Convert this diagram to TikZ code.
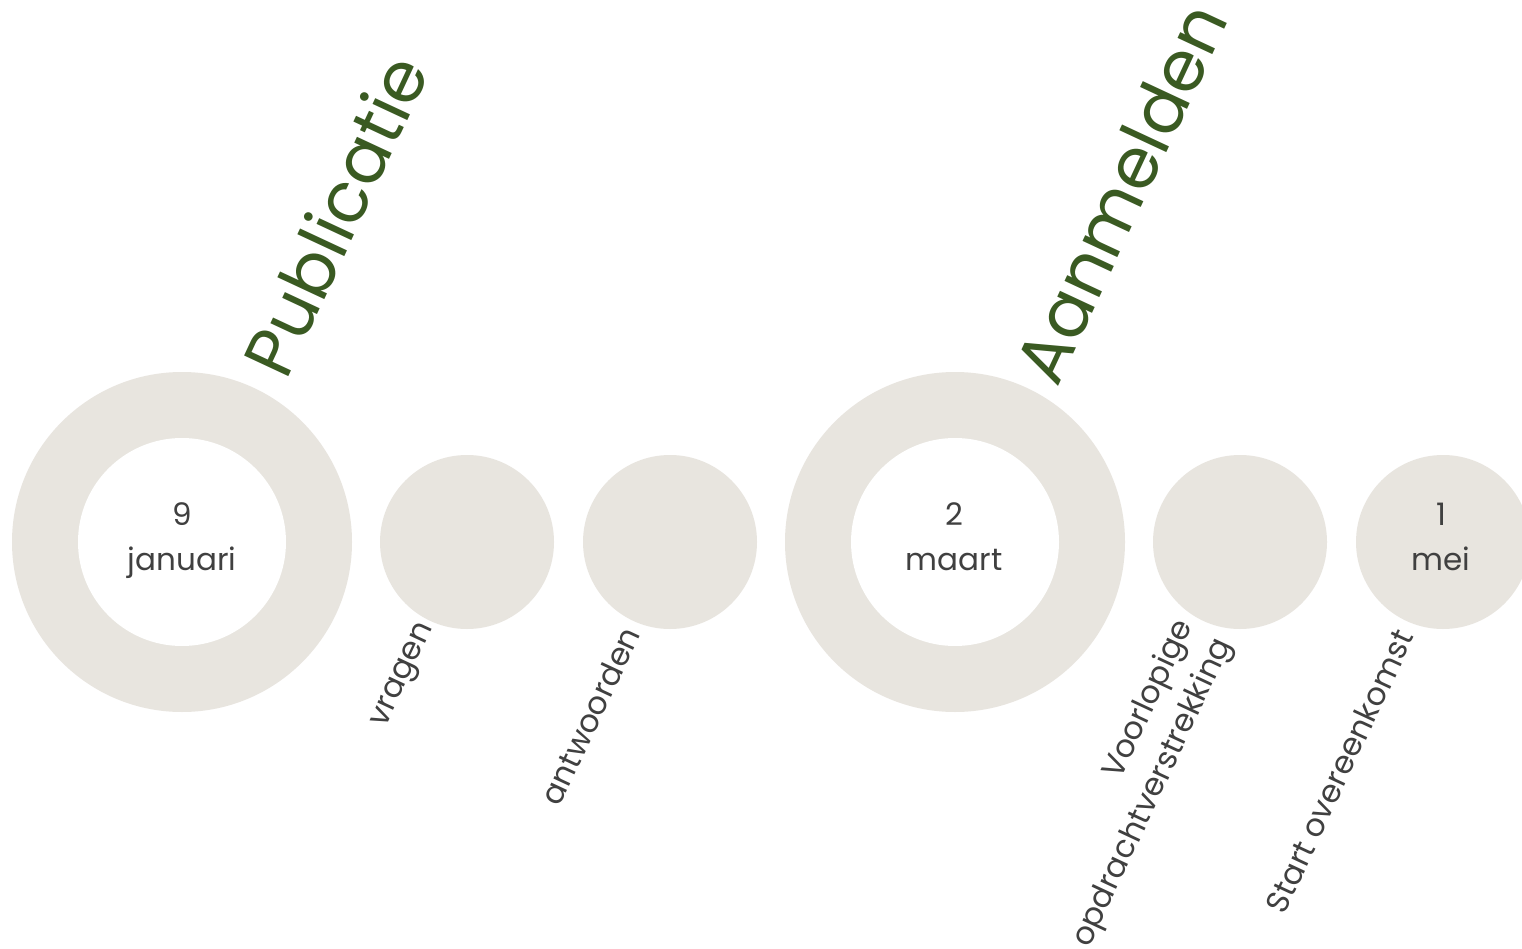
\documentclass[tikz,border=0pt]{standalone}
\usepackage{fontspec}
\setmainfont{Poppins}
\definecolor{ringgray}{HTML}{E8E5DF}
\definecolor{leafgreen}{HTML}{3A5A22}
\definecolor{txtgray}{HTML}{404040}
\begin{document}
\begin{tikzpicture}[x=1pt,y=-1pt,
  ring/.style={circle,fill=ringgray,minimum size=340pt,inner sep=0pt},
  hole/.style={circle,fill=white,minimum size=208pt,inner sep=0pt},
  dot/.style={circle,fill=ringgray,minimum size=174pt,inner sep=0pt},
  datetxt/.style={anchor=base,inner sep=0pt,text=txtgray,font=\fontsize{31}{40}\selectfont},
  phase/.style={rotate=65,text=leafgreen,font=\fontsize{70}{80}\selectfont,inner sep=0pt},
  lbl/.style={rotate=65,text=txtgray,font=\fontsize{31.5}{43}\selectfont,inner sep=0pt,align=right}]
\fill[white] (0,0) rectangle (1522,949);
\useasboundingbox (0,0) rectangle (1522,949);
\clip (0,0) rectangle (1522,949);
\node[ring] (r1) at (182,542) {};
\node[hole] (h1) at (182,542) {};
\node[dot] (d2) at (467,542) {};
\node[dot] (d3) at (670,542) {};
\node[ring] (r4) at (955,542) {};
\node[hole] (h4) at (955,542) {};
\node[dot] (d5) at (1240,542) {};
\node[dot] (d6) at (1443,542) {};
\node[datetxt] (n1) at (182,525) {9};
\node[datetxt] (m1) at (182,570) {januari};
\node[datetxt] (n4) at (954,525) {2};
\node[datetxt] (m4) at (954,570) {maart};
\node[datetxt] (n6) at (1441,525) {1};
\node[datetxt] (m6) at (1441,570) {mei};
\node[phase] (p1) at (335,215) {Publicatie};
\node[phase] (p2) at (1120,193) {Aanmelden};
\node[lbl] (l2) at (405,676) {vragen};
\node[lbl] (l3) at (590,716) {antwoorden};
\node[lbl] (l5) at (1134,784) {Voorlopige\\opdrachtverstrekking};
\node[lbl] (l6) at (1339,771) {Start overeenkomst};
\end{tikzpicture}
\end{document}
